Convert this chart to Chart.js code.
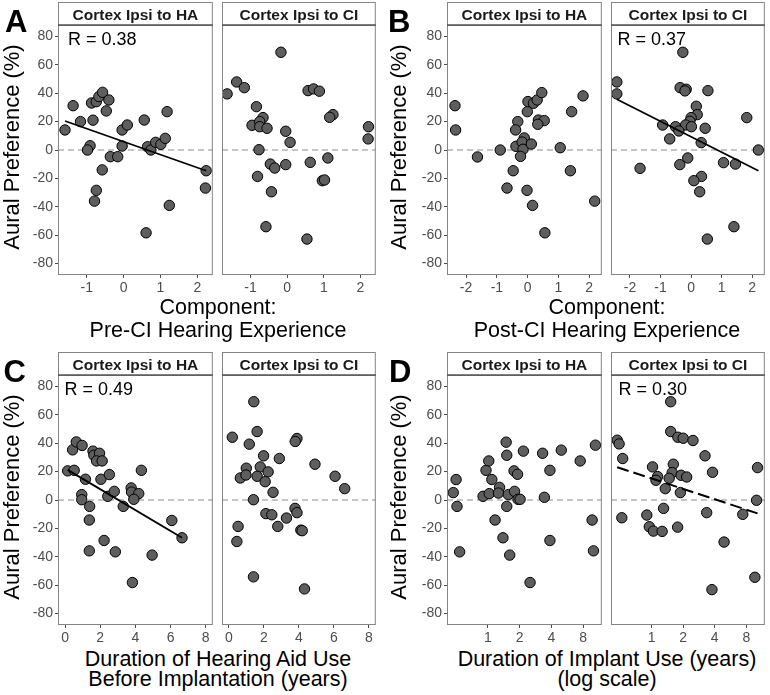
<!DOCTYPE html>
<html>
<head>
<meta charset="utf-8">
<script src="https://cdn.jsdelivr.net/npm/chart.js@4.4.1/dist/chart.umd.min.js"></script>
<style>
    body { margin: 0; background: #fff; }
    #fig { position: relative; width: 770px; height: 695px; overflow: hidden; font-family: "Liberation Sans", Arial, sans-serif; }
    #fig canvas { position: absolute; }
    .txt { position: absolute; white-space: nowrap; color: #000; }
</style>
</head>
<body>
<div id="fig"></div>
<script>
// facet strips and y axis (shared by every panel)
const stripTitles = ['Cortex Ipsi to HA', 'Cortex Ipsi to CI'];
const yTicks = [-80, -60, -40, -20, 0, 20, 40, 60, 80];
const yLimits = [-88, 88];

// A: pre-CI hearing experience component
const ticksA = [-1, 0, 1, 2];
const limitsA = [-1.78, 2.42];
const aHA_x = [-1.59, -1.37, -1.17, -0.91, -0.98, -0.87, -0.83, -0.74, -0.67, -0.57, -0.40, -0.47, -0.58, -0.74, -0.79, -0.36, -0.16, -0.04, -0.04, 0.10, 0.56, 0.65, 0.74, 0.87, 1.01, 1.13, 1.18, 2.24, 2.22, 1.24, 0.61];
const aHA_y = [14.1, 31.2, 20, 3, 0, 33.1, 21, 34, 37.6, 40.6, 35.2, 27.5, -14, -28.4, -36, -4.7, -4.7, 2.8, 14.1, 17.6, 21.1, 2.3, 0, 5.4, 4, 8.2, 27, -14.6, -26.8, -39, -58.3];
const aCI_x = [-1.64, -1.38, -1.17, -0.17, -0.84, -0.66, -0.96, -0.75, -0.75, -0.55, -0.04, 0.08, -0.77, -0.46, -0.34, -0.04, -0.81, -0.43, -0.58, 0.54, 0.57, 0.72, 0.88, 1.25, 1.16, 2.22, 2.21, 0.63, 1.11, 0.96, 1.02];
const aCI_y = [39.5, 47.9, 43.9, 68.8, 30.5, 22.8, 17.4, 20, 16.4, 15.3, 13.2, 5.4, 0.2, -9.9, -12.7, -10.3, -18.6, -29.4, -54, -62.7, 41.8, 43, 41.4, 24.9, 23, 16.4, 7.8, -8.7, -5.6, -21.6, -21.1];
const aFit_x = [-1.59, 2.24];
const aFit_y = [20.4, -14.6];

// B: post-CI hearing experience component
const ticksB = [-2, -1, 0, 1, 2];
const limitsB = [-2.62, 2.41];
const bHA_x = [-2.36, -2.34, -1.63, -0.89, -0.47, -0.67, -0.32, -0.39, -0.11, -0.38, -0.18, -0.15, -0.23, 0.12, -0.02, 0.16, 0.56, -0.01, 0.01, 0.19, 0.31, 0.46, 0.35, 0.54, 0.33, 1.06, 1.39, 1.43, 1.80, 2.18];
const bHA_y = [31.2, 14.1, -4.9, 0, -14.6, -26.8, 20, 14.1, 8.5, 2.6, 5.6, 0.5, -4.5, 4.2, -28.4, -39, -58.3, 27, 34.1, 32.9, 35.2, 40.4, 21.1, 20.7, 18.1, 1.6, -14.6, 27, 38.1, -36];
const bCI_x = [-2.43, -2.43, -0.27, -0.36, -0.16, -0.20, 0.55, 0.17, 0.20, 0, -0.04, -0.18, 0.01, -0.51, -0.93, -0.40, -0.70, 0.46, 0.33, -0.11, -0.37, -1.67, 0.34, 0.09, 0.28, 1.06, 1.45, 1.82, 2.20, 1.40, 0.53];
const bCI_y = [47.9, 39.5, 68.8, 43.9, 42.8, 41.6, 41.8, 30.8, 24.9, 22.8, 20.2, 17.6, 16.4, 16.4, 17.6, 13.4, 7.8, 15.3, 5.2, -5.6, -10.3, -12.9, -18.6, -21.6, -29.4, -8.9, -9.9, 22.8, 0, -54, -62.7];
const bFit_x = [-2.43, 2.20];
const bFit_y = [35.7, -14.6];

// C: years of hearing aid use before implantation
const ticksC = [0, 2, 4, 6, 8];
const limitsC = [-0.4, 8.4];
const cHA_x = [0.15, 0.52, 0.43, 0.64, 0.97, 1.16, 0.95, 0.95, 1.40, 1.38, 1.38, 1.59, 1.64, 1.96, 1.79, 2.11, 2.04, 2.52, 2.43, 2.80, 2.22, 2.86, 3.31, 3.76, 3.78, 4.19, 3.91, 4.34, 3.83, 4.95, 6.07, 6.65];
const cHA_y = [20.5, 20.9, 35.3, 40.9, 38.4, 14.6, 3.8, 0.2, -4.5, -14.1, -35.8, 34.4, 31.5, 32.9, 27.5, 27.5, 14.6, 17.9, 2.6, 6.1, -28.5, -36.5, -4.5, 8.5, 5.6, 4.5, 0.5, 20.9, -58.1, -38.8, -14.4, -26.6];
const cCI_x = [1.42, 0.19, 1.61, 1.16, 3.89, 3.79, 1.98, 2.88, 4.92, 0.99, 1.79, 2.24, 0.65, 0.97, 1.61, 2.07, 2.52, 6.07, 6.62, 1.40, 2.11, 2.45, 3.29, 3.78, 3.89, 2.79, 0.52, 0.45, 4.11, 4.19, 1.40, 4.32];
const cCI_y = [69.2, 44.2, 48.2, 39.3, 43.3, 41.2, 31.1, 29.2, 25.2, 22.4, 23.3, 19.8, 15.5, 17.6, 16.7, 12.9, 5.4, 16.7, 8, 0.2, -9.6, -10.4, -12.7, -5.9, -8.9, -18.6, -18.6, -29.2, -21.2, -21.6, -54.1, -62.6];
const cFit_x = [0.15, 6.65];
const cFit_y = [21.2, -26.6];

// D: years of implant use (log axis)
const ticksD = [1, 2, 4, 8];
const limitsD = [0.41, 12];
const dHA_x = [0.47, 0.50, 0.51, 0.54, 0.90, 0.96, 1.02, 1.03, 1.09, 1.29, 1.26, 1.17, 1.39, 1.49, 1.51, 1.56, 1.51, 1.61, 1.77, 1.91, 1.79, 1.93, 2.02, 2.17, 2.51, 3.30, 3.43, 3.87, 3.87, 4.96, 7.49, 10.45, 9.72, 10.01];
const dHA_y = [5.2, 14.4, -4.5, -36.5, 2.6, 20.9, 27.5, 4.5, 14.4, 8.9, 4.9, -14.1, -26.6, 40.7, 31.5, 3.8, -4.5, -38.8, 20.5, 18.1, 6.1, 0.5, 0.5, 34.4, -58.1, 32.9, 1.9, 20.9, -28.5, 35.1, 27.5, 38.6, -14.1, -35.8];
const dCI_x = [0.47, 0.49, 0.53, 0.52, 1.52, 1.52, 1.78, 2.00, 2.48, 3.23, 3.81, 1.02, 1.14, 1.10, 1.61, 1.57, 1.47, 1.35, 1.91, 2.16, 1.88, 1.30, 0.90, 0.95, 1.04, 1.26, 1.77, 3.35, 4.91, 3.76, 7.40, 10.01, 10.23, 9.65];
const dCI_y = [42.1, 39.5, 29.2, -12.5, 69.2, 48.2, 44.2, 43.5, 41.9, 31.1, 19.5, 23.3, 16.5, 13.9, 25.2, 19.3, 15.3, 8, 17.4, 16.2, 5.2, -5.9, -10.6, -18.8, -21.9, -22.1, -19.1, -8.9, -29.6, -63.1, -10.1, -0.2, 22.8, -54.4];
const dFit_x = [0.47, 10.23];
const dFit_y = [23.1, -9.4];

// layout (pixels)
const STRIP_H = 23;
const AXIS_W = 40;
const AXIS_H = 22;
const colEdges = [[[58, 215], [222, 378]], [[447, 604], [611, 767]]];
const rowEdges = [{ top: 25, bottom: 275 }, { top: 375, bottom: 625 }];
const FONT = '"Liberation Sans", Arial, sans-serif';

const panels = [
    { letter: 'A', col: 0, row: 0, log: false, ticks: ticksA, limits: limitsA,
      title: ['Component:', 'Pre-CI Hearing Experience'], titleY: [306.5, 330],
      facets: [{ x: aHA_x, y: aHA_y, fx: aFit_x, fy: aFit_y, r: 'R = 0.38', rx: 10 }, { x: aCI_x, y: aCI_y }] },
    { letter: 'B', col: 1, row: 0, log: false, ticks: ticksB, limits: limitsB,
      title: ['Component:', 'Post-CI Hearing Experience'], titleY: [306.5, 330],
      facets: [{ x: bHA_x, y: bHA_y }, { x: bCI_x, y: bCI_y, fx: bFit_x, fy: bFit_y, r: 'R = 0.37', rx: 6.5 }] },
    { letter: 'C', col: 0, row: 1, log: false, ticks: ticksC, limits: limitsC,
      title: ['Duration of Hearing Aid Use', 'Before Implantation (years)'], titleY: [659, 679],
      facets: [{ x: cHA_x, y: cHA_y, fx: cFit_x, fy: cFit_y, r: 'R = 0.49', rx: 6.5 }, { x: cCI_x, y: cCI_y }] },
    { letter: 'D', col: 1, row: 1, log: true, ticks: ticksD, limits: limitsD,
      title: ['Duration of Implant Use (years)', '(log scale)'], titleY: [659, 679],
      facets: [{ x: dHA_x, y: dHA_y }, { x: dCI_x, y: dCI_y, fx: dFit_x, fy: dFit_y, r: 'R = 0.30', rx: 7.5, dashed: true }] }
];

const fig = document.getElementById('fig');

function addText(txt, css) {
    const d = document.createElement('div');
    d.className = 'txt';
    d.textContent = txt;
    Object.assign(d.style, css);
    fig.appendChild(d);
    return d;
}

// zero line, panel border, strip and R label
const deco = {
    id: 'deco',
    beforeDatasetsDraw(chart) {
        const { ctx, chartArea: a, scales } = chart;
        const y0 = scales.y.getPixelForValue(0);
        ctx.save();
        ctx.strokeStyle = '#b3b3b3';
        ctx.lineWidth = 1.4;
        ctx.setLineDash([6, 4]);
        ctx.beginPath();
        ctx.moveTo(a.left, y0);
        ctx.lineTo(a.right, y0);
        ctx.stroke();
        ctx.restore();
    },
    afterDatasetsDraw(chart, args, opts) {
        const { ctx, chartArea: a } = chart;
        const st = a.top - STRIP_H;
        ctx.save();
        ctx.strokeStyle = '#858585';
        ctx.lineWidth = 1;
        ctx.strokeRect(a.left + 0.5, a.top + 0.5, a.width - 1, a.height - 1);
        ctx.fillStyle = '#fff';
        ctx.fillRect(a.left, st, a.width, STRIP_H);
        ctx.strokeRect(a.left + 0.5, st + 0.5, a.width - 1, STRIP_H);
        ctx.strokeStyle = '#555';
        ctx.lineWidth = 1.7;
        ctx.beginPath();
        ctx.moveTo(a.left, a.top);
        ctx.lineTo(a.right, a.top);
        ctx.stroke();
        ctx.fillStyle = '#1a1a1a';
        ctx.font = 'bold 15.5px ' + FONT;
        ctx.textAlign = 'center';
        ctx.textBaseline = 'alphabetic';
        ctx.fillText(opts.strip, (a.left + a.right) / 2, st + 17.5);
        if (opts.r) {
            ctx.fillStyle = '#000';
            ctx.font = '18px ' + FONT;
            ctx.textAlign = 'left';
            ctx.fillText(opts.r, a.left + opts.rx, a.top + 19.5);
        }
        ctx.restore();
    }
};

panels.forEach(p => {
    const rows = rowEdges[p.row];
    p.facets.forEach((f, i) => {
        const [l, r] = colEdges[p.col][i];
        const w = AXIS_W + (r - l) + 4;
        const h = STRIP_H + (rows.bottom - rows.top) + AXIS_H;
        const cv = document.createElement('canvas');
        cv.width = w;
        cv.height = h;
        cv.style.left = (l - AXIS_W) + 'px';
        cv.style.top = (rows.top - STRIP_H) + 'px';
        fig.appendChild(cv);

        const datasets = [];
        if (f.fx) {
            datasets.push({
                type: 'line',
                data: f.fx.map((v, k) => ({ x: v, y: f.fy[k] })),
                borderColor: '#000',
                borderWidth: f.dashed ? 2 : 1.8,
                borderDash: f.dashed ? [12, 5] : [],
                pointRadius: 0,
                fill: false,
                tension: 0
            });
        }
        datasets.push({
            type: 'scatter',
            data: f.x.map((v, k) => ({ x: v, y: f.y[k] })),
            backgroundColor: '#5e5e5e',
            borderColor: '#000',
            borderWidth: 1,
            pointRadius: 5.2
        });

        new Chart(cv, {
            type: 'scatter',
            data: { datasets: datasets },
            options: {
                responsive: false,
                animation: false,
                devicePixelRatio: 1,
                events: [],
                layout: { padding: { left: 0, top: STRIP_H, right: 4, bottom: 0 } },
                plugins: {
                    legend: { display: false },
                    tooltip: { enabled: false },
                    deco: { strip: stripTitles[i], r: f.r, rx: f.rx }
                },
                scales: {
                    x: {
                        type: p.log ? 'logarithmic' : 'linear',
                        min: p.limits[0],
                        max: p.limits[1],
                        afterBuildTicks: s => { s.ticks = p.ticks.map(v => ({ value: v })); },
                        afterFit: s => { s.height = AXIS_H; s.paddingLeft = 0; s.paddingRight = 0; },
                        grid: { display: true, drawOnChartArea: false, drawTicks: true, tickLength: 3, tickColor: '#4d4d4d' },
                        border: { display: false },
                        ticks: {
                            autoSkip: false, maxRotation: 0, padding: 2,
                            color: '#4d4d4d', font: { family: FONT, size: 14 },
                            callback: v => String(v)
                        }
                    },
                    y: {
                        type: 'linear',
                        min: yLimits[0],
                        max: yLimits[1],
                        afterBuildTicks: s => { s.ticks = yTicks.map(v => ({ value: v })); },
                        afterFit: s => { s.width = AXIS_W; s.paddingTop = 0; s.paddingBottom = 0; },
                        grid: { display: i === 0, drawOnChartArea: false, drawTicks: i === 0, tickLength: 3, tickColor: '#4d4d4d' },
                        border: { display: false },
                        ticks: {
                            display: i === 0, padding: 2,
                            color: '#4d4d4d', font: { family: FONT, size: 14 },
                            callback: v => String(v)
                        }
                    }
                }
            },
            plugins: [deco]
        });
    });

    // panel letter, y title, x title
    const left = colEdges[p.col][0][0];
    const right = colEdges[p.col][1][1];
    const letterLeft = { A: 5, B: 388, C: 3.5, D: 389 }[p.letter];
    addText(p.letter, { left: letterLeft + 'px', top: (rows.top - STRIP_H + 4) + 'px',
        fontSize: '31px', lineHeight: '31px', fontWeight: 'bold' });
    const yt = addText('Aural Preference (%)', { left: (p.col ? 399 : 11.5) + 'px', top: ((rows.top + rows.bottom) / 2 - 3) + 'px',
        fontSize: '22px', lineHeight: '22px' });
    yt.style.transform = 'translate(-50%, -50%) rotate(-90deg)';
    p.title.forEach((t, k) => {
        addText(t, { left: ((left + right) / 2) + 'px', top: (p.titleY[k] - 11) + 'px', fontSize: '21.5px', lineHeight: '22px',
            transform: 'translateX(-50%)' });
    });
});
</script>
</body>
</html>
